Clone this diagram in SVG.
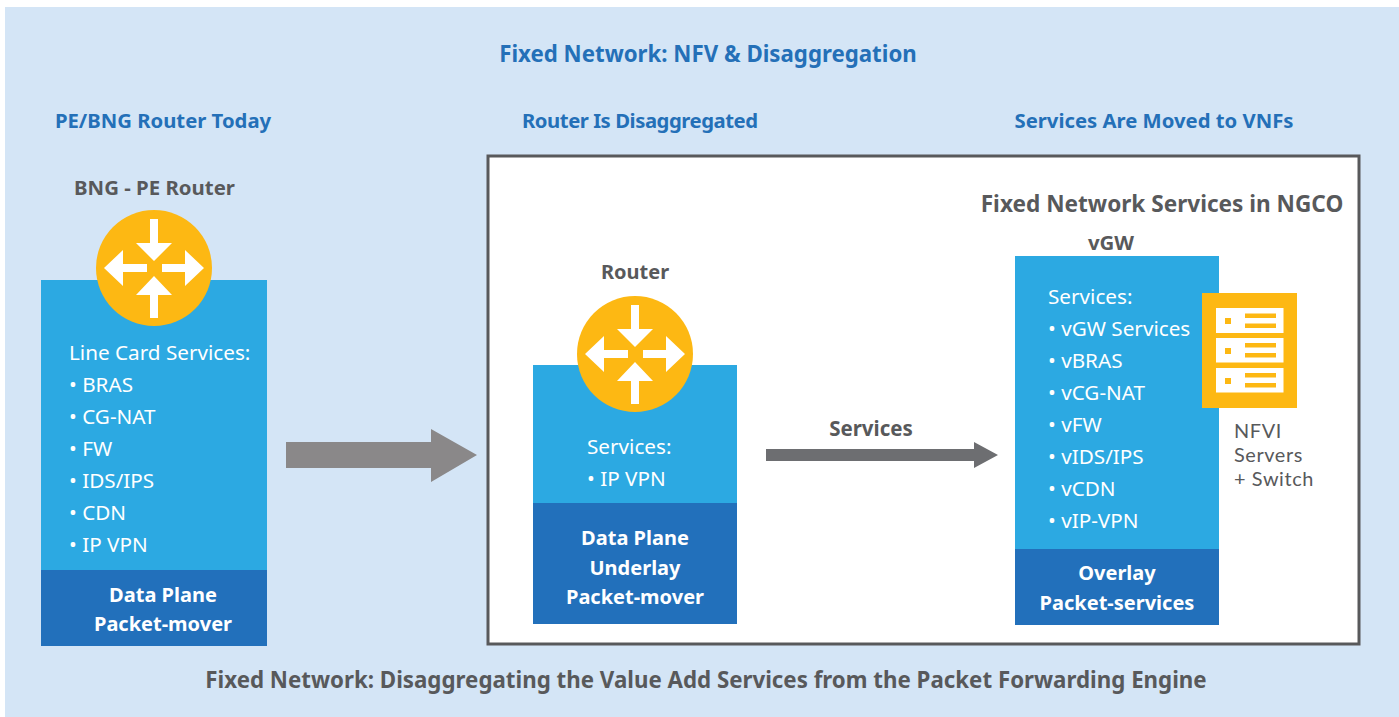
<svg xmlns="http://www.w3.org/2000/svg" xmlns:xlink="http://www.w3.org/1999/xlink" width="1399" height="717" viewBox="0 0 1399 717">
<style>
text{font-family:"Noto Sans","Open Sans","Liberation Sans",sans-serif}
.hd{font-size:20.300px;font-weight:700;fill:#2470b8}
.gr{font-weight:700;fill:#58595b}
.w{font-size:20.700px;fill:#fff}
.wb{font-size:20px;font-weight:700;fill:#fff;text-anchor:middle}
.g{font-family:Lato,"Noto Sans",sans-serif;font-size:19.900px;letter-spacing:.6px;fill:#58595b}
.lt{fill:#2ca9e2}.dk{fill:#2270bb}.y{fill:#fdb813}
</style>
<defs>
<g id="router">
<circle r="58" class="y"/>
<path fill="#fff" d="M-4-49H4V-25H18L0-7L-18-25H-4ZM-50 0L-31-18V-4H-7V4H-31V18ZM50 0L31-18V-4H8V4H31V18ZM0 8L18 27H4V50H-4V27H-18Z"/>
</g>
</defs>
<rect x="5" y="7" width="1394" height="710" fill="#d4e5f6"/>
<text class="hd" x="708" y="62" text-anchor="middle" style="font-size:22.250px">Fixed Network: NFV &amp; Disaggregation</text>
<text class="hd" x="163" y="128" text-anchor="middle">PE/BNG Router Today</text>
<text class="hd" x="640" y="128" text-anchor="middle" textLength="236">Router Is Disaggregated</text>
<text class="hd" x="1154" y="128" text-anchor="middle">Services Are Moved to VNFs</text>
<g id="ngco-frame">
<rect x="488" y="156" width="871" height="488" fill="#fff" stroke="#58595b" stroke-width="3"/>
<text class="gr" x="1162" y="212" text-anchor="middle" font-size="22.600">Fixed Network Services in NGCO</text>
</g>
<g id="pe-router">
<text class="gr" x="154.500" y="195" text-anchor="middle" font-size="20.400">BNG - PE Router</text>
<rect class="lt" x="41" y="280" width="226" height="291"/>
<rect class="dk" x="41" y="570" width="226" height="76"/>
<use xlink:href="#router" href="#router" x="154" y="268"/>
<text class="w" x="69" y="360">Line Card Services:</text>
<text class="w" x="69" y="392">• BRAS</text>
<text class="w" x="69" y="424">• CG-NAT</text>
<text class="w" x="69" y="456">• FW</text>
<text class="w" x="69" y="488">• IDS/IPS</text>
<text class="w" x="69" y="520">• CDN</text>
<text class="w" x="69" y="552">• IP VPN</text>
<text class="wb" x="163" y="602">Data Plane</text>
<text class="wb" x="163" y="631">Packet-mover</text>
</g>
<g id="router-node">
<text class="gr" x="635" y="279" text-anchor="middle" font-size="20">Router</text>
<rect class="lt" x="533" y="365" width="204" height="139"/>
<rect class="dk" x="533" y="503" width="204" height="121"/>
<use xlink:href="#router" href="#router" x="635" y="354"/>
<text class="w" x="587" y="454">Services:</text>
<text class="w" x="587" y="486">• IP VPN</text>
<text class="wb" x="635" y="545">Data Plane</text>
<text class="wb" x="635" y="575">Underlay</text>
<text class="wb" x="635" y="604">Packet-mover</text>
</g>
<g id="vgw">
<text class="gr" x="1111" y="250" text-anchor="middle" font-size="20.400">vGW</text>
<rect class="lt" x="1015" y="256" width="204" height="294"/>
<rect class="dk" x="1015" y="549" width="204" height="76"/>
<text class="w" x="1048" y="304">Services:</text>
<text class="w" x="1048" y="336">• vGW Services</text>
<text class="w" x="1048" y="368">• vBRAS</text>
<text class="w" x="1048" y="400">• vCG-NAT</text>
<text class="w" x="1048" y="432">• vFW</text>
<text class="w" x="1048" y="464">• vIDS/IPS</text>
<text class="w" x="1048" y="496">• vCDN</text>
<text class="w" x="1048" y="528">• vIP-VPN</text>
<text class="wb" x="1117" y="580">Overlay</text>
<text class="wb" x="1117" y="610">Packet-services</text>
</g>
<g id="nfvi">
<rect class="y" x="1202" y="293" width="95" height="115"/>
<g fill="#fff">
<rect x="1216" y="308" width="67.500" height="25"/>
<rect x="1216" y="338" width="67.500" height="24.500"/>
<rect x="1216" y="368" width="67.500" height="24.500"/>
</g>
<g class="y">
<path d="M1225 318h6v6h-6ZM1245 313.500h31v4.500h-31ZM1245 323.500h31v4.500h-31Z"/>
<path d="M1225 348h6v6h-6ZM1245 343h31v4.500h-31ZM1245 353h31v4.500h-31Z"/>
<path d="M1225 378h6v6h-6ZM1245 373h31v4.500h-31ZM1245 383h31v4.500h-31Z"/>
</g>
<text class="g" x="1234" y="438">NFVI</text>
<text class="g" x="1234" y="462">Servers</text>
<text class="g" x="1234" y="486">+ Switch</text>
</g>
<g id="connectors">
<path fill="#8a8889" d="M286 442H431V429L477 455L431 482V468H286Z"/>
<path fill="#6d6e71" d="M766 449H974V442L998 455L974 468V461H766Z"/>
<text class="gr" x="871" y="435.500" text-anchor="middle" font-size="20.500">Services</text>
</g>
<text class="gr" x="706" y="688" text-anchor="middle" font-size="22.300">Fixed Network: Disaggregating the Value Add Services from the Packet Forwarding Engine</text>
</svg>
